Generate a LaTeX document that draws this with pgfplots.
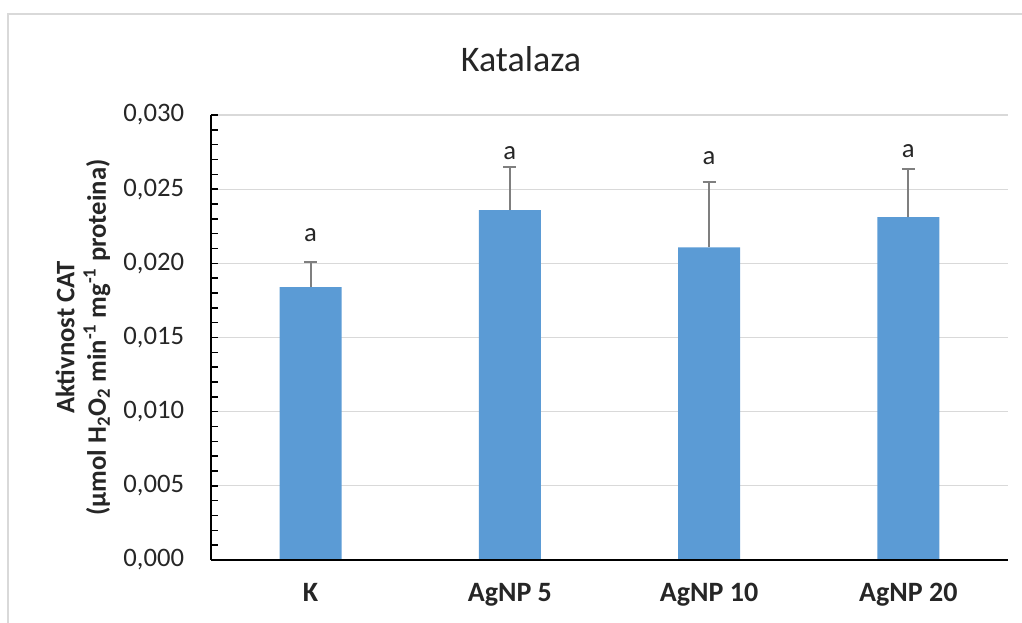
\documentclass[border=0pt]{standalone}
\usepackage{fontspec}
\setmainfont{Carlito}
\usepackage{pgfplots}
\pgfplotsset{compat=1.18}
\definecolor{barblue}{HTML}{5B9BD5}
\definecolor{errgray}{HTML}{7F7F7F}
\definecolor{gridgray}{HTML}{D9D9D9}
\definecolor{framegray}{HTML}{D9D9D9}
\definecolor{txt}{HTML}{262626}
\pgfplotstableread{
x y e
0 0.01839 0.00168
1 0.02358 0.00294
2 0.02108 0.00442
3 0.02312 0.00324
}\cattable
\begin{document}
\begin{tikzpicture}[x=1pt,y=1pt]
\useasboundingbox (0,0) rectangle (766.5,467.25);
\draw[color=framegray, line width=1.3pt] (6,-2) -- (6,456.75) -- (768,456.75);
\node[font=\fontsize{27}{32}\selectfont, text=txt] at (390.75,423) {Katalaza};
\node[rotate=90, align=center, text=txt, font=\bfseries\fontsize{20}{23.5}\selectfont] at (62.25,214.1) {Aktivnost CAT\\(µmol H\textsubscript{2}O\textsubscript{2} min\textsuperscript{-1} mg\textsuperscript{-1} proteina)};
\begin{axis}[
  at={(158.25pt,47.25pt)}, anchor=south west,
  scale only axis, width=597.75pt, height=333.75pt,
  xmin=-0.5, xmax=3.5, ymin=0, ymax=0.03,
  axis lines*=left,
  axis line style={line width=1.5pt, black},
  xtick={0,1,2,3},
  xticklabels={K, AgNP 5, AgNP 10, AgNP 20},
  x tick style={draw=none},
  xticklabel style={font=\bfseries\fontsize{21}{24}\selectfont, text=txt, anchor=north, inner sep=0pt, yshift=-17pt},
  ytick={0,0.005,0.01,0.015,0.02,0.025,0.03},
  minor y tick num=4,
  tick align=inside,
  major tick length=5.5pt, minor tick length=5.5pt,
  y tick style={black, line width=1.2pt},
  ymajorgrids,
  grid style={color=gridgray, line width=0.9pt},
  scaled y ticks=false,
  /pgf/number format/assume math mode=true,
  yticklabel style={/pgf/number format/.cd, fixed, fixed zerofill, precision=3, use comma, /tikz/.cd,
    font=\fontsize{20}{24}\selectfont, text=txt, anchor=east, inner sep=0pt, xshift=-20pt},
  clip=false,
]
\addplot[ybar, bar width=46.5pt, fill=barblue, draw=none,
  error bars/.cd, y dir=plus, y explicit,
  error bar style={line width=1.5pt, color=errgray},
  error mark options={rotate=90, line width=1.5pt, color=errgray, mark size=4.8pt}]
  table[x=x, y=y, y error=e] {\cattable};
\draw[line width=1.5pt, black] (rel axis cs:0,0) -- (rel axis cs:1,0);
\node[font=\fontsize{20}{24}\selectfont, text=txt, inner sep=0pt] at (axis cs:0,0.02191) {a};
\node[font=\fontsize{20}{24}\selectfont, text=txt, inner sep=0pt] at (axis cs:1,0.02744) {a};
\node[font=\fontsize{20}{24}\selectfont, text=txt, inner sep=0pt] at (axis cs:2,0.02710) {a};
\node[font=\fontsize{20}{24}\selectfont, text=txt, inner sep=0pt] at (axis cs:3,0.02757) {a};
\end{axis}
\end{tikzpicture}
\end{document}
